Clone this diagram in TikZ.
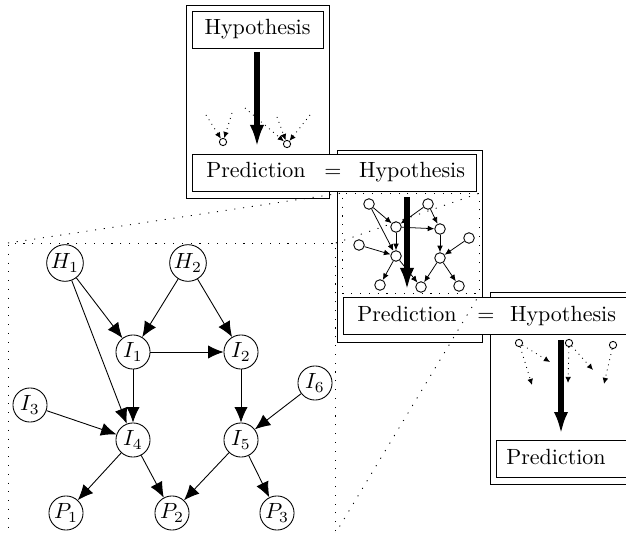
\documentclass[tikz,border=0pt]{standalone}
\usetikzlibrary{arrows.meta}
\def\PX{0.4545pt}
\begin{document}
\begin{tikzpicture}[x=0.4545pt,y=-0.4545pt,
  panel/.style={draw, fill=white, inner sep=0pt, anchor=north west},
  tbox/.style={draw, fill=white, inner sep=0pt, anchor=north west},
  txt/.style={inner sep=0pt, anchor=base},
  gnode/.style={circle, draw, fill=white, minimum size=15.5pt, inner sep=0.5pt},
  garr/.style={-{Latex[length=7pt,width=6pt]}},
  snode/.style={circle, draw, fill=white, minimum size=4.8pt, inner sep=0pt},
  sarr/.style={-{Latex[length=3pt,width=2.6pt]}, line width=0.35pt},
  bigarr/.style={line width=2.3pt, -{Latex[length=10pt,width=6.5pt]}},
  zrect/.style={draw, dash pattern=on 0.5pt off 3.5pt, inner sep=0pt, anchor=north west},
  zline/.style={dash pattern=on 0.5pt off 3.5pt},
  tiny/.style={circle, draw, fill=white, minimum size=3.3pt, inner sep=0pt},
  darr/.style={dotted, -{Latex[length=2.8pt,width=2.6pt]}}
]
\useasboundingbox (0,0) rectangle (626,533);

% ---------- panel outer boxes ----------
\node[panel, minimum width=143*\PX, minimum height=193*\PX] (pan1) at (186,5) {};
\node[panel, minimum width=145*\PX, minimum height=192*\PX] (pan2) at (337,150) {};
\node[panel, minimum width=143*\PX, minimum height=192*\PX] (pan3) at (490,292) {};

% ---------- panel 1 ----------
\node[tbox, minimum width=131*\PX, minimum height=37*\PX] (hypbox1) at (192,11) {};
\node[txt] (hyptxt1) at (257.5,35) {Hypothesis};
\coordinate (t1s) at (257,52);
\coordinate (t1e) at (257,147);
\draw[bigarr] (t1s) -- (t1e);
\node[tiny] (pa) at (223,142) {};
\node[tiny] (pb) at (287,144) {};
\coordinate (qa1) at (206,115);
\coordinate (qa2) at (232,113);
\coordinate (qb1) at (245,108);
\coordinate (qb2) at (277,117);
\coordinate (qb3) at (310,115);
\draw[darr] (qa1) -- (pa);
\draw[darr] (qa2) -- (pa);
\draw[darr] (qb1) -- (pb);
\draw[darr] (qb2) -- (pb);
\draw[darr] (qb3) -- (pb);

% ---------- panel 2 ----------
\node[zrect, minimum width=137*\PX, minimum height=100*\PX] (small) at (342,193) {};
\node[snode] (sH1) at (369,204) {};
\node[snode] (sH2) at (428,204) {};
\node[snode] (sI1) at (396,227) {};
\node[snode] (sI2) at (440,229) {};
\node[snode] (sI3) at (359,245) {};
\node[snode] (sI6) at (469,238) {};
\node[snode] (sI4) at (396,256) {};
\node[snode] (sI5) at (440,258) {};
\node[snode] (sP1) at (380,285) {};
\node[snode] (sP2) at (421,287) {};
\node[snode] (sP3) at (459,286) {};
\foreach \a/\b in {sH1/sI1, sH1/sI4, sH2/sI1, sH2/sI2, sI1/sI2, sI1/sI4, sI2/sI5, sI3/sI4, sI6/sI5, sI4/sP1, sI4/sP2, sI5/sP2, sI5/sP3}
  \draw[sarr] (\a) -- (\b);
\coordinate (t2s) at (407,197);
\coordinate (t2e) at (407,290);
\draw[bigarr] (t2s) -- (t2e);

% ---------- panel 3 ----------
\node[tiny] (c1) at (519,343) {};
\node[tiny] (c2) at (569,343) {};
\node[tiny] (c3) at (613,345) {};
\coordinate (e1) at (550,362);
\coordinate (e2) at (532,385);
\coordinate (e3) at (568,383);
\coordinate (e4) at (593,370);
\coordinate (e5) at (604,384);
\draw[darr] (c1) -- (e1);
\draw[darr] (c1) -- (e2);
\draw[darr] (c2) -- (e3);
\draw[darr] (c2) -- (e4);
\draw[darr] (c3) -- (e5);
\coordinate (t3s) at (561,340);
\coordinate (t3e) at (561,434);
\draw[bigarr] (t3s) -- (t3e);

% ---------- Prediction = Hypothesis boxes ----------
\node[tbox, minimum width=284*\PX, minimum height=37*\PX] (ph1) at (192,154) {};
\node[txt] (pred1) at (256,178) {Prediction};
\node[txt] (eq1) at (333,178) {$=$};
\node[txt] (hyp2) at (412,178) {Hypothesis};

\node[tbox, minimum width=284*\PX, minimum height=37*\PX] (ph2) at (343,297) {};
\node[txt] (pred2) at (407,321) {Prediction};
\node[txt] (eq2) at (486,321) {$=$};
\node[txt] (hyp3) at (563,321) {Hypothesis};

\node[tbox, minimum width=131*\PX, minimum height=37*\PX] (predbox3) at (496,440) {};
\node[txt] (pred3) at (556,464) {Prediction};

% ---------- main graph ----------
\node[zrect, minimum width=327*\PX, minimum height=295*\PX] (big) at (8,243) {};
\coordinate (bigse) at (335,534);
\node[gnode] (H1) at (65,263) {$H_1$};
\node[gnode] (H2) at (188,263) {$H_2$};
\node[gnode] (I1) at (133,352) {$I_1$};
\node[gnode] (I2) at (241,352) {$I_2$};
\node[gnode] (I3) at (30,405) {$I_3$};
\node[gnode] (I6) at (315,383) {$I_6$};
\node[gnode] (I4) at (133,440) {$I_4$};
\node[gnode] (I5) at (241,440) {$I_5$};
\node[gnode] (P1) at (66,513) {$P_1$};
\node[gnode] (P2) at (172,513) {$P_2$};
\node[gnode] (P3) at (277,513) {$P_3$};
\foreach \a/\b in {H1/I1, H1/I4, H2/I1, H2/I2, I1/I2, I1/I4, I2/I5, I3/I4, I6/I5, I4/P1, I4/P2, I5/P2, I5/P3}
  \draw[garr] (\a) -- (\b);

% ---------- zoom lines ----------
\draw[zline] (big.north west) -- (small.north west);
\draw[zline] (big.north east) -- (small.north east);
\draw[zline] (bigse) -- (small.south east);
\end{tikzpicture}
\end{document}
